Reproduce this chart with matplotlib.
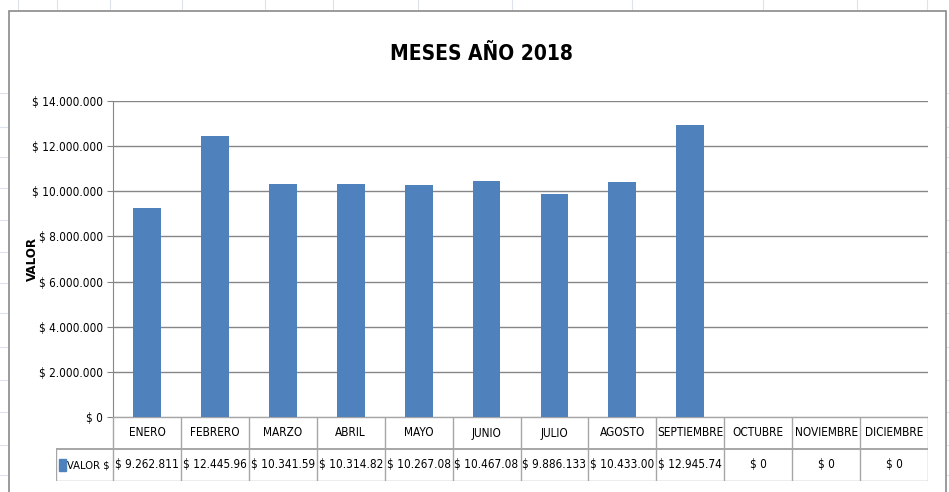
import matplotlib
matplotlib.use("Agg")
import matplotlib.pyplot as plt
from matplotlib.lines import Line2D
from matplotlib.patches import Rectangle

plt.rcParams['font.family'] = ['DejaVu Sans']
plt.rcParams['font.stretch'] = 'condensed'

months = ["ENERO", "FEBRERO", "MARZO", "ABRIL", "MAYO", "JUNIO", "JULIO",
          "AGOSTO", "SEPTIEMBRE", "OCTUBRE", "NOVIEMBRE", "DICIEMBRE"]
values = [9262811, 12445960, 10341590, 10314820, 10267080, 10467080, 9886133,
          10433000, 12945740, 0, 0, 0]
value_labels = ["$ 9.262.811", "$ 12.445.96", "$ 10.341.59", "$ 10.314.82",
                "$ 10.267.08", "$ 10.467.08", "$ 9.886.133", "$ 10.433.00",
                "$ 12.945.74", "$ 0", "$ 0", "$ 0"]
y_ticks = [0, 2000000, 4000000, 6000000, 8000000, 10000000, 12000000, 14000000]
y_tick_labels = ["$ 0", "$ 2.000.000", "$ 4.000.000", "$ 6.000.000",
                 "$ 8.000.000", "$ 10.000.000", "$ 12.000.000", "$ 14.000.000"]

W, H = 949, 492
BLUE = "#4F81BD"
GRID = "#868686"

fig = plt.figure(figsize=(W / 100, H / 100), dpi=100)


def fx(px):
    return px / W


def fy(py):
    return 1 - py / H


# spreadsheet background grid
for x in [18, 57, 110, 182, 265, 333, 418, 512, 632, 763, 857, 927]:
    fig.add_artist(Line2D([fx(x), fx(x)], [fy(0), fy(11)], color="#DDE3EC", lw=0.8, zorder=-3))
for y in [93, 127, 157, 188, 220, 252, 283, 313, 347, 380, 412, 445, 475]:
    fig.add_artist(Line2D([fx(0), fx(9)], [fy(y), fy(y)], color="#DDE3EC", lw=0.8, zorder=-3))
    fig.add_artist(Line2D([fx(946), fx(949)], [fy(y), fy(y)], color="#DDE3EC", lw=0.8, zorder=-3))

# chart frame
fig.add_artist(Rectangle((fx(9), fy(500)), fx(946) - fx(9), fy(11) - fy(500),
                         facecolor="white", edgecolor="#8A8A8A", lw=1.2, zorder=-2))

left, right, top, bottom = 113, 928, 101, 417
ax = fig.add_axes([fx(left), fy(bottom), fx(right) - fx(left), fy(top) - fy(bottom)])
ax.patch.set_alpha(0)
x = list(range(len(months)))
ax.bar(x, values, width=0.41, color=BLUE, zorder=3)
ax.set_xlim(-0.5, len(months) - 0.5)
ax.set_ylim(0, 14000000)
ax.set_yticks(y_ticks)
ax.set_yticklabels(y_tick_labels, fontsize=8.5)
ax.set_xticks([])
ax.yaxis.grid(True, color=GRID, lw=1.0, zorder=0)
for s in ["top", "right", "bottom"]:
    ax.spines[s].set_visible(False)
ax.spines["left"].set_color(GRID)
ax.tick_params(axis="y", length=4, color=GRID, pad=3)
ax.set_ylabel("VALOR", fontsize=9.5, fontweight="bold")
ax.yaxis.set_label_coords(-0.091, 0.5)

fig.text(fx(481), fy(54), "MESES AÑO 2018", ha="center", va="center",
         fontsize=15, fontweight="bold")

# data table
tleft, ttop, tmid, tbot = 56, 417, 451, 481
cell = (right - left) / len(months)
first = (left - tleft) / cell
tax = fig.add_axes([fx(tleft), fy(tbot), fx(right) - fx(tleft), fy(ttop) - fy(tbot)])
tax.patch.set_alpha(0)
tax.set_xlim(-0.5 - first, len(months) - 0.5)
tax.set_ylim(0, 2)
tax.axis("off")
lc = "#A6A6A6"
tax.plot([-0.5, len(months) - 0.5], [2, 2], color=lc, lw=1)
tax.plot([-0.5 - first, len(months) - 0.5], [1, 1], color=lc, lw=1.4)
tax.plot([-0.5 - first, len(months) - 0.5], [0, 0], color=lc, lw=1)
tax.plot([-0.5 - first, -0.5 - first], [0, 1], color=lc, lw=1)
for i in range(len(months) + 1):
    tax.plot([i - 0.5, i - 0.5], [0, 2], color=lc, lw=1)
for i, (m, v) in enumerate(zip(months, value_labels)):
    tax.text(i, 1.5, m, ha="center", va="center", fontsize=8.5)
    tax.text(i, 0.5, v, ha="center", va="center", fontsize=8.5)
tax.add_patch(Rectangle((-0.5 - first + 0.05, 0.3), 0.09, 0.4, color=BLUE))
tax.text(-0.5 - first + 0.16, 0.5, "VALOR $", ha="left", va="center", fontsize=8)

fig.savefig("out.png", dpi=100)
